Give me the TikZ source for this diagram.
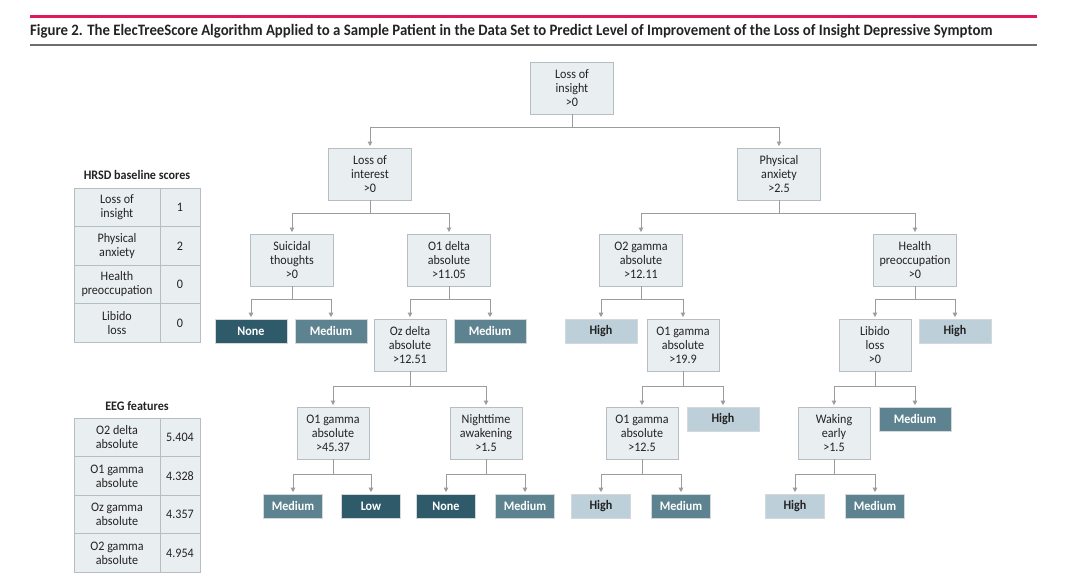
\documentclass[tikz,border=0pt]{standalone}
\usepackage{fontspec}
\setmainfont{Carlito}[FakeStretch=0.93]
\usetikzlibrary{arrows.meta}

\definecolor{titlered}{HTML}{E0185F}
\definecolor{rulegray}{HTML}{6E6E6E}
\definecolor{boxfill}{HTML}{E9EEF1}
\definecolor{boxline}{HTML}{B7BEC3}
\definecolor{linkgray}{HTML}{9C9C9C}
\definecolor{leafdark}{HTML}{2E5A69}
\definecolor{leafmid}{HTML}{5D8290}
\definecolor{leaflight}{HTML}{BDCFD9}
\definecolor{inkgray}{HTML}{232323}

\begin{document}
\begin{tikzpicture}[x=1pt,y=-1pt,
  txt/.style={font=\fontsize{13}{14}\selectfont, text=inkgray},
  split/.style={txt, draw=boxline, fill=boxfill, line width=.9pt, align=center,
    minimum width=83, minimum height=52, inner sep=0pt},
  splitsm/.style={split, minimum width=72},
  leaf/.style={font=\bfseries\fontsize{13}{14}\selectfont, minimum width=72,
    minimum height=24, inner sep=0pt, draw=boxline!60, line width=.6pt},
  leafsm/.style={leaf, minimum width=59},
  none/.style={fill=leafdark, text=white},
  med/.style={fill=leafmid, text=white},
  high/.style={fill=leaflight, text=inkgray},
  link/.style={draw=linkgray, line width=.9pt, shorten >=1.5pt,
    -{Triangle[width=4.5pt,length=4.5pt]}},
  cell/.style={txt, draw=boxline, fill=boxfill, line width=1pt, align=center,
    minimum height=38.5, inner sep=0pt},
  head/.style={font=\bfseries\fontsize{13}{14}\selectfont, text=inkgray}]
\useasboundingbox (0,0) rectangle (1080,586);

% title
\draw[titlered, line width=3pt] (30,17) -- (1037,17);
\node[anchor=base west, inner sep=0pt, text=inkgray,
  font=\bfseries\fontsize{15.9}{17}\selectfont] (title) at (30,36)
  {Figure 2. The ElecTreeScore Algorithm Applied to a Sample Patient in the Data Set to Predict Level of Improvement of the Loss of Insight Depressive Symptom};
\draw[rulegray, line width=1.3pt] (30,45) -- (1037,45);

% baseline scores
\node[head] (hrsd) at (137,175) {HRSD baseline scores};
\node[cell, minimum width=86] (h1) at (117,207.5) {Loss of\\insight};
\node[cell, minimum width=40] (v1) at (180,207.5) {1};
\node[cell, minimum width=86] (h2) at (117,246) {Physical\\anxiety};
\node[cell, minimum width=40] (v2) at (180,246) {2};
\node[cell, minimum width=86] (h3) at (117,284.5) {Health\\preoccupation};
\node[cell, minimum width=40] (v3) at (180,284.5) {0};
\node[cell, minimum width=86] (h4) at (117,323) {Libido\\loss};
\node[cell, minimum width=40] (v4) at (180,323) {0};

% eeg features
\node[head] (eeg) at (137,406) {EEG features};
\node[cell, minimum width=86] (e1) at (117,437.5) {O2 delta\\absolute};
\node[cell, minimum width=40] (w1) at (180,437.5) {5.404};
\node[cell, minimum width=86] (e2) at (117,476) {O1 gamma\\absolute};
\node[cell, minimum width=40] (w2) at (180,476) {4.328};
\node[cell, minimum width=86] (e3) at (117,514.5) {Oz gamma\\absolute};
\node[cell, minimum width=40] (w3) at (180,514.5) {4.357};
\node[cell, minimum width=86] (e4) at (117,553) {O2 gamma\\absolute};
\node[cell, minimum width=40] (w4) at (180,553) {4.954};

% tree
\node[split] (root) at (572,88) {Loss of\\insight\\>0};
\node[split] (interest) at (370,174) {Loss of\\interest\\>0};
\node[split] (anxiety) at (779,174) {Physical\\anxiety\\>2.5};

\node[split] (suicidal) at (292,260) {Suicidal\\thoughts\\>0};
\node[split] (odelta) at (449,260) {O1 delta\\absolute\\>11.05};
\node[split] (otwogamma) at (641,260) {O2 gamma\\absolute\\>12.11};
\node[split] (health) at (915,260) {Health\\preoccupation\\>0};

\node[leaf, none] (noneA) at (251,331) {None};
\node[leaf, med] (medA) at (331,331) {Medium};
\node[splitsm] (ozdelta) at (410,345) {Oz delta\\absolute\\>12.51};
\node[leaf, med] (medB) at (490,331) {Medium};
\node[leaf, high] (highA) at (601,331) {High};
\node[splitsm] (ogammaA) at (683,345) {O1 gamma\\absolute\\>19.9};
\node[splitsm] (libido) at (875,345) {Libido\\loss\\>0};
\node[leaf, high] (highB) at (955,331) {High};

\node[splitsm] (ogammaB) at (333,433) {O1 gamma\\absolute\\>45.37};
\node[splitsm] (night) at (486,433) {Nighttime\\awakening\\>1.5};
\node[splitsm] (ogammaC) at (642,433) {O1 gamma\\absolute\\>12.5};
\node[leaf, high] (highC) at (723,419) {High};
\node[splitsm] (waking) at (834,433) {Waking\\early\\>1.5};
\node[leaf, med] (medC) at (915,419) {Medium};

\node[leafsm, med] (medD) at (293,506) {Medium};
\node[leafsm, none] (low) at (371,506) {Low};
\node[leafsm, none] (noneB) at (446,506) {None};
\node[leafsm, med] (medE) at (525,506) {Medium};
\node[leafsm, high] (highD) at (601,506) {High};
\node[leafsm, med] (medF) at (681,506) {Medium};
\node[leafsm, high] (highE) at (795,506) {High};
\node[leafsm, med] (medG) at (875,506) {Medium};

% links
\draw[link] (root.south) -- ++(0,13) -| (interest.north);
\draw[link] (root.south) -- ++(0,13) -| (anxiety.north);
\draw[link] (interest.south) -- ++(0,13) -| (suicidal.north);
\draw[link] (interest.south) -- ++(0,13) -| (odelta.north);
\draw[link] (anxiety.south) -- ++(0,13) -| (otwogamma.north);
\draw[link] (anxiety.south) -- ++(0,13) -| (health.north);
\draw[link] (suicidal.south) -- ++(0,13) -| (noneA.north);
\draw[link] (suicidal.south) -- ++(0,13) -| (medA.north);
\draw[link] (odelta.south) -- ++(0,13) -| (ozdelta.north);
\draw[link] (odelta.south) -- ++(0,13) -| (medB.north);
\draw[link] (otwogamma.south) -- ++(0,13) -| (highA.north);
\draw[link] (otwogamma.south) -- ++(0,13) -| (ogammaA.north);
\draw[link] (health.south) -- ++(0,13) -| (libido.north);
\draw[link] (health.south) -- ++(0,13) -| (highB.north);
\draw[link] (ozdelta.south) -- ++(0,15) -| (ogammaB.north);
\draw[link] (ozdelta.south) -- ++(0,15) -| (night.north);
\draw[link] (ogammaA.south) -- ++(0,15) -| (ogammaC.north);
\draw[link] (ogammaA.south) -- ++(0,15) -| (highC.north);
\draw[link] (libido.south) -- ++(0,15) -| (waking.north);
\draw[link] (libido.south) -- ++(0,15) -| (medC.north);
\draw[link] (ogammaB.south) -- ++(0,15) -| (medD.north);
\draw[link] (ogammaB.south) -- ++(0,15) -| (low.north);
\draw[link] (night.south) -- ++(0,15) -| (noneB.north);
\draw[link] (night.south) -- ++(0,15) -| (medE.north);
\draw[link] (ogammaC.south) -- ++(0,15) -| (highD.north);
\draw[link] (ogammaC.south) -- ++(0,15) -| (medF.north);
\draw[link] (waking.south) -- ++(0,15) -| (highE.north);
\draw[link] (waking.south) -- ++(0,15) -| (medG.north);
\end{tikzpicture}
\end{document}
